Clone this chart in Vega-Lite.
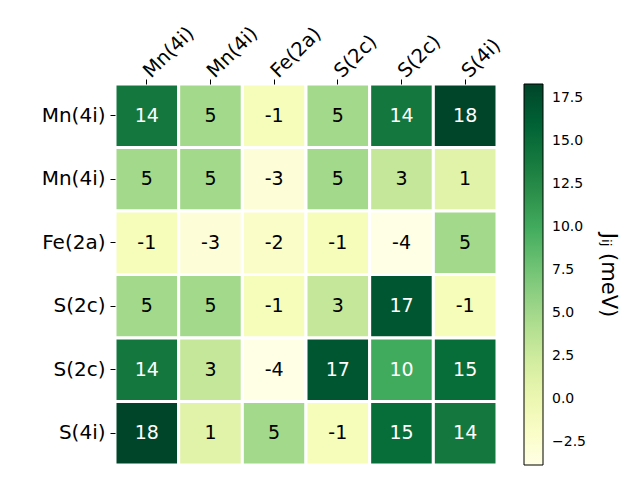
{
  "$schema": "https://vega.github.io/schema/vega-lite/v6.json",
  "width": 382,
  "height": 381,
  "autosize": "none",
  "padding": {"left": 115, "top": 84, "right": 143, "bottom": 15},
  "background": "white",
  "config": {"view": {"stroke": null}, "font": "DejaVu Sans"},
  "data": {
    "values": [
      {"row": 0, "col": 0, "v": 14}, {"row": 0, "col": 1, "v": 5}, {"row": 0, "col": 2, "v": -1}, {"row": 0, "col": 3, "v": 5}, {"row": 0, "col": 4, "v": 14}, {"row": 0, "col": 5, "v": 18.3},
      {"row": 1, "col": 0, "v": 5}, {"row": 1, "col": 1, "v": 5}, {"row": 1, "col": 2, "v": -3}, {"row": 1, "col": 3, "v": 5}, {"row": 1, "col": 4, "v": 3}, {"row": 1, "col": 5, "v": 1},
      {"row": 2, "col": 0, "v": -1}, {"row": 2, "col": 1, "v": -3}, {"row": 2, "col": 2, "v": -2}, {"row": 2, "col": 3, "v": -1}, {"row": 2, "col": 4, "v": -3.8}, {"row": 2, "col": 5, "v": 5},
      {"row": 3, "col": 0, "v": 5}, {"row": 3, "col": 1, "v": 5}, {"row": 3, "col": 2, "v": -1}, {"row": 3, "col": 3, "v": 3}, {"row": 3, "col": 4, "v": 17}, {"row": 3, "col": 5, "v": -1},
      {"row": 4, "col": 0, "v": 14}, {"row": 4, "col": 1, "v": 3}, {"row": 4, "col": 2, "v": -3.8}, {"row": 4, "col": 3, "v": 17}, {"row": 4, "col": 4, "v": 10}, {"row": 4, "col": 5, "v": 15},
      {"row": 5, "col": 0, "v": 18.3}, {"row": 5, "col": 1, "v": 1}, {"row": 5, "col": 2, "v": 5}, {"row": 5, "col": 3, "v": -1}, {"row": 5, "col": 4, "v": 15}, {"row": 5, "col": 5, "v": 14}
    ]
  },
  "transform": [
    {"calculate": "replace(format(datum.v, '.0f'), '\u2212', '-')", "as": "lbl"}
  ],
  "encoding": {
    "x": {
      "field": "col", "type": "ordinal", "title": null,
      "scale": {"paddingInner": 0, "paddingOuter": 0},
      "axis": {
        "orient": "top", "domain": false, "labelAngle": -45, "labelAlign": "left", "labelBaseline": "middle",
        "labelFontSize": 19.5, "labelFont": "DejaVu Sans", "labelColor": "black", "tickColor": "black", "tickSize": 5, "labelPadding": 5,
        "labelExpr": "['Mn(4i)','Mn(4i)','Fe(2a)','S(2c)','S(2c)','S(4i)'][datum.value]"
      }
    },
    "y": {
      "field": "row", "type": "ordinal", "title": null,
      "scale": {"paddingInner": 0, "paddingOuter": 0},
      "axis": {
        "domain": false, "labelFontSize": 20, "labelFont": "DejaVu Sans", "labelColor": "black", "tickColor": "black", "tickSize": 5, "labelPadding": 5,
        "labelExpr": "['Mn(4i)','Mn(4i)','Fe(2a)','S(2c)','S(2c)','S(4i)'][datum.value]"
      }
    }
  },
  "layer": [
    {
      "mark": {"type": "rect", "stroke": "white", "strokeWidth": 3},
      "encoding": {
        "fill": {
          "field": "v", "type": "quantitative",
          "scale": {
            "domain": [-3.82, -1.051, 1.7175, 4.486, 7.255, 10.024, 12.7925, 15.561, 18.33],
            "range": ["#ffffe5", "#f7fcb9", "#d9f0a3", "#addd8e", "#78c679", "#41ab5d", "#238443", "#006837", "#004529"],
            "interpolate": "rgb"
          },
          "legend": {
            "title": "Jᵢⱼ (meV)", "titleOrient": "right", "titleAngle": 90, "titleFontSize": 21, "titleFontWeight": "normal",
            "titleFont": "DejaVu Sans",
            "titleColor": "black", "titlePadding": 12, "titleAnchor": "middle", "titleBaseline": "bottom",
            "direction": "vertical", "gradientLength": 381, "gradientThickness": 19, "offset": 27, "padding": 0,
            "gradientStrokeColor": "black", "gradientStrokeWidth": 1,
            "values": [-2.5, 0, 2.5, 5, 7.5, 10, 12.5, 15, 17.5], "format": ".1f",
            "labelFont": "DejaVu Sans", "labelFontSize": 14, "labelColor": "black", "labelOffset": 9
          }
        }
      }
    },
    {
      "mark": {"type": "text", "fontSize": 19, "font": "DejaVu Sans"},
      "encoding": {
        "text": {"field": "lbl", "type": "nominal"},
        "color": {"condition": {"test": "datum.v > 8", "value": "white"}, "value": "black"}
      }
    }
  ]
}
